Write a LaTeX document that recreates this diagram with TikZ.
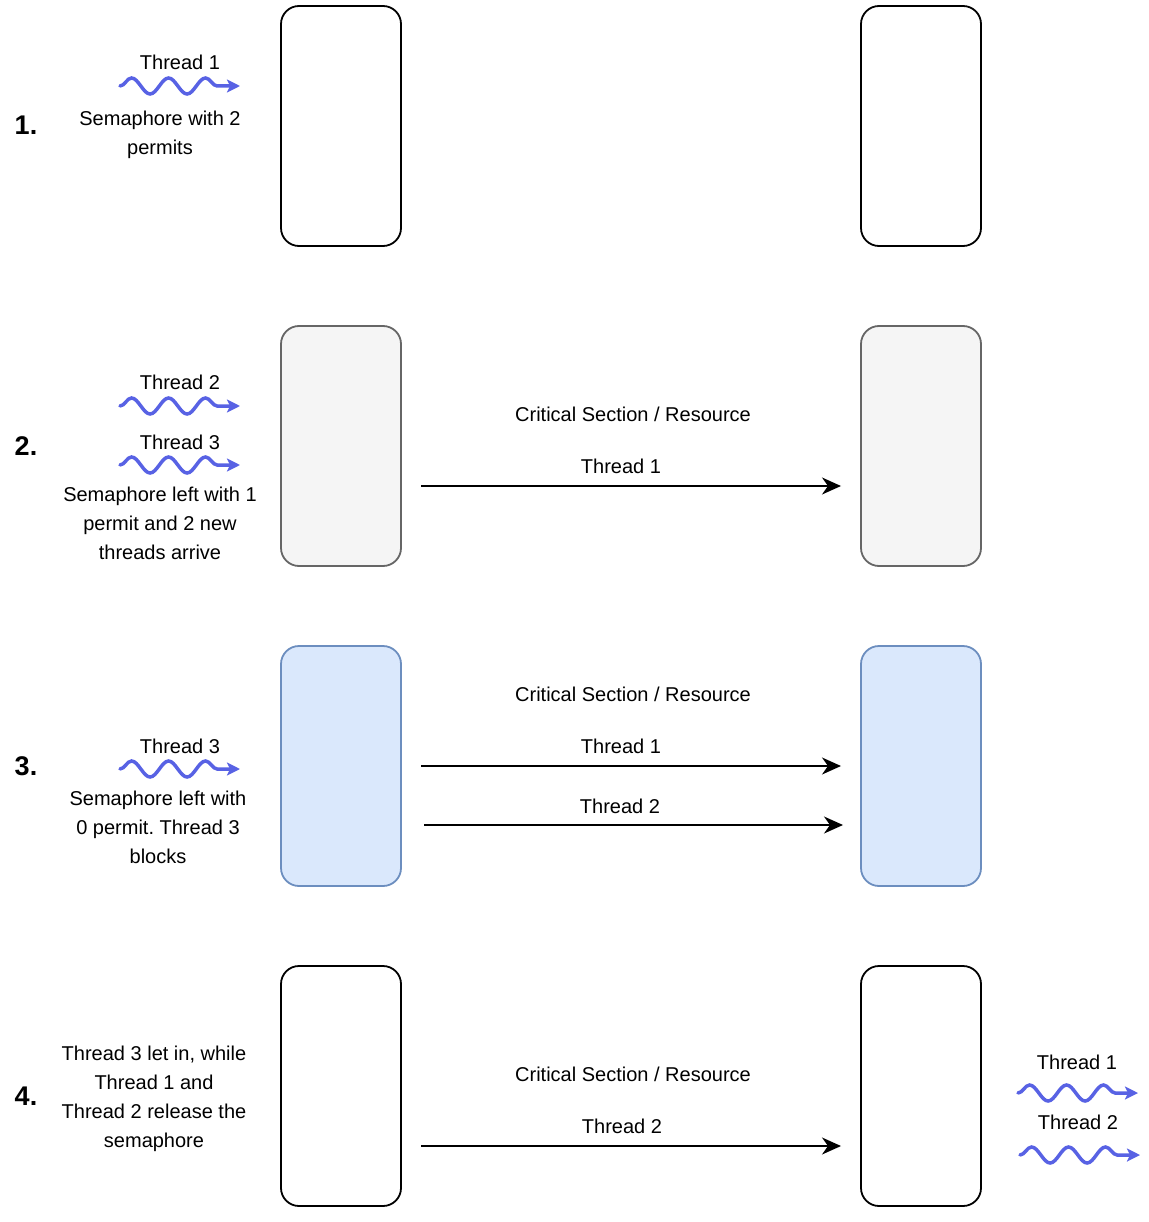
\documentclass[tikz,border=0pt]{standalone}
\usepackage{fontspec}
\setmainfont{Liberation Sans}
\usetikzlibrary{arrows.meta,decorations.pathmorphing}
\definecolor{wavec}{RGB}{88,98,228}
\definecolor{greyfill}{HTML}{F5F5F5}
\definecolor{greyline}{HTML}{666666}
\definecolor{bluefill}{HTML}{DAE8FC}
\definecolor{blueline}{HTML}{6C8EBF}
\frenchspacing
\tikzset{
  box/.style={draw, line width=1.8pt, rounded corners=18pt, minimum width=120pt, minimum height=240pt, inner sep=0pt},
  lbl/.style={font=\fontsize{20}{29}\selectfont, align=center, inner sep=0pt},
  num/.style={font=\fontsize{27}{30}\selectfont\bfseries, inner sep=0pt},
  arr/.style={line width=1.5pt, -{Stealth[length=19pt,width=17pt,inset=6pt]}},
  thread/.style={wavec, line width=3.5pt, line cap=round, decorate,
    decoration={snake, segment length=37pt, amplitude=8pt, post length=5pt},
    -{Stealth[length=13pt,width=13pt,inset=3pt]}}
}
\begin{document}
\begin{tikzpicture}[x=1pt,y=-1pt]
\useasboundingbox (0,0) rectangle (1148,1222);
%\draw[help lines] (0,0) grid[step=100] (1148,1222);
% 1.
\node[box] (l1) at (341,126) {};
\node[box] (r1) at (921,126) {};
\node[num] (n1) at (26,125) {1.};
\node[lbl] (t1a) at (180,62) {Thread 1};
\coordinate (w1a) at (120,86); \coordinate (v1a) at (240,86);
\draw[thread] (w1a) -- (v1a);
\node[lbl] (d1) at (160,135) {Semaphore with 2\\permits};
% 2.
\node[box, fill=greyfill, draw=greyline] (l2) at (341,446) {};
\node[box, fill=greyfill, draw=greyline] (r2) at (921,446) {};
\node[num] (n2) at (26,446) {2.};
\node[lbl] (t2a) at (180,382) {Thread 2};
\coordinate (w2a) at (120,406); \coordinate (v2a) at (240,406);
\draw[thread] (w2a) -- (v2a);
\node[lbl] (t2b) at (180,442) {Thread 3};
\coordinate (w2b) at (120,465); \coordinate (v2b) at (240,465);
\draw[thread] (w2b) -- (v2b);
\node[lbl] (d2) at (160,523) {Semaphore left with 1\\permit and 2 new\\threads arrive};
\node[lbl] (c2) at (633,414) {Critical Section / Resource};
\node[lbl] (a2a) at (621,466) {Thread 1};
\coordinate (s2a) at (421,486); \coordinate (e2a) at (841,486);
\draw[arr] (s2a) -- (e2a);
% 3.
\node[box, fill=bluefill, draw=blueline] (l3) at (341,766) {};
\node[box, fill=bluefill, draw=blueline] (r3) at (921,766) {};
\node[num] (n3) at (26,766) {3.};
\node[lbl] (t3a) at (180,746) {Thread 3};
\coordinate (w3a) at (120,769); \coordinate (v3a) at (240,769);
\draw[thread] (w3a) -- (v3a);
\node[lbl] (d3) at (158,827) {Semaphore left with\\0 permit. Thread 3\\blocks};
\node[lbl] (c3) at (633,694) {Critical Section / Resource};
\node[lbl] (a3a) at (621,746) {Thread 1};
\coordinate (s3a) at (421,766); \coordinate (e3a) at (841,766);
\draw[arr] (s3a) -- (e3a);
\node[lbl] (a3b) at (620,806) {Thread 2};
\coordinate (s3b) at (424,825); \coordinate (e3b) at (843,825);
\draw[arr] (s3b) -- (e3b);
% 4.
\node[box] (l4) at (341,1086) {};
\node[box] (r4) at (921,1086) {};
\node[num] (n4) at (26,1096) {4.};
\node[lbl] (d4) at (154,1099) {Thread 3 let in, while\\Thread 1 and\\Thread 2 release the\\semaphore};
\node[lbl] (c4) at (633,1074) {Critical Section / Resource};
\node[lbl] (a4a) at (622,1126) {Thread 2};
\coordinate (s4a) at (421,1146); \coordinate (e4a) at (841,1146);
\draw[arr] (s4a) -- (e4a);
\node[lbl] (t4a) at (1077,1062) {Thread 1};
\coordinate (w4a) at (1018,1093); \coordinate (v4a) at (1138,1093);
\draw[thread] (w4a) -- (v4a);
\node[lbl] (t4b) at (1078,1122) {Thread 2};
\coordinate (w4b) at (1020,1155); \coordinate (v4b) at (1140,1155);
\draw[thread] (w4b) -- (v4b);
\end{tikzpicture}
\end{document}
